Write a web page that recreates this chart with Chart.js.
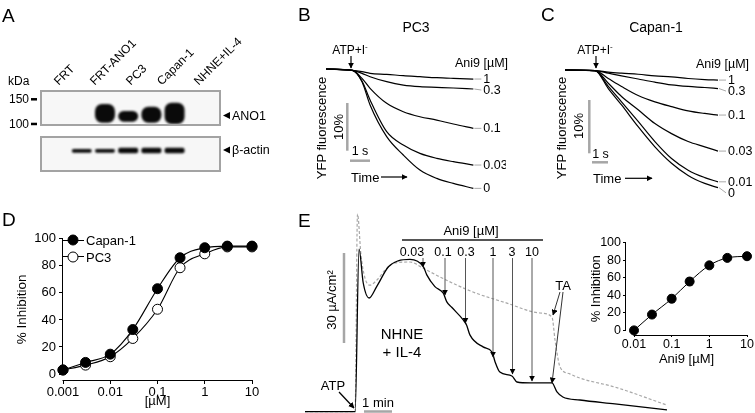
<!DOCTYPE html>
<html>
<head>
<meta charset="utf-8">
<script src="https://cdn.jsdelivr.net/npm/chart.js@4.4.1/dist/chart.umd.min.js"></script>
<style>
  body { margin: 0; background: #fff; }
  #fig { position: relative; width: 755px; height: 413px; overflow: hidden;
         font-family: "Liberation Sans", Arial, sans-serif; color: #000; }
  #fig canvas { position: absolute; }
  .t { position: absolute; white-space: nowrap; line-height: 1; }
  .c { transform: translate(-50%, -50%); }
  .l { transform: translate(0, -50%); }
  .v { transform: translate(-50%, -50%) rotate(-90deg); }
  .d { transform-origin: 0 50%; transform: translate(0, -50%) rotate(-45deg); font-size: 12px; }
  .big { font-size: 19px; }
  .sup { position: relative; top: -5px; font-size: 8px; }
  .dot { position: absolute; width: 9px; height: 9px; border: 1px solid #000; border-radius: 50%;
         transform: translate(-50%, -50%); }
  svg { position: absolute; left: 0; top: 0; }
</style>
</head>
<body>
<div id="fig">
  <!-- A: western blot -->
  <canvas id="cA1" width="221" height="48" style="left:0;top:84px"></canvas>
  <canvas id="cA2" width="221" height="36" style="left:0;top:136px"></canvas>
  <!-- B, C: YFP traces -->
  <canvas id="cB" width="180" height="135" style="left:326px;top:60px"></canvas>
  <canvas id="cC" width="190" height="140" style="left:565px;top:60px"></canvas>
  <!-- D: dose response -->
  <canvas id="cD" width="248" height="181" style="left:14px;top:228px"></canvas>
  <!-- E: short-circuit current trace and inset -->
  <canvas id="cE" width="362" height="203" style="left:305px;top:210px"></canvas>
  <canvas id="cE2" width="166" height="134" style="left:589px;top:233px"></canvas>

  <svg width="755" height="413">
    <defs>
      <marker id="ah" viewBox="0 0 10 10" refX="9" refY="5" markerWidth="6" markerHeight="6"
              markerUnits="userSpaceOnUse" orient="auto">
        <path d="M0,0 L10,5 L0,10 z" fill="#000"/>
      </marker>
    </defs>
    <!-- A side arrows -->
    <polygon points="223,115.5 230,112 230,119" fill="#000"/>
    <polygon points="223,150 230,146.5 230,153.5" fill="#000"/>
    <!-- B -->
    <line x1="351" y1="56" x2="351" y2="68" stroke="#000" stroke-width="1.2" marker-end="url(#ah)"/>
    <line x1="347.3" y1="103" x2="347.3" y2="150.7" stroke="#a6a6a6" stroke-width="2.5"/>
    <line x1="350" y1="160.7" x2="370" y2="160.7" stroke="#a6a6a6" stroke-width="2.5"/>
    <line x1="381" y1="177" x2="407" y2="177" stroke="#000" stroke-width="1.2" marker-end="url(#ah)"/>
    <!-- C -->
    <line x1="596" y1="56" x2="596" y2="68" stroke="#000" stroke-width="1.2" marker-end="url(#ah)"/>
    <line x1="589.3" y1="100" x2="589.3" y2="153.3" stroke="#a6a6a6" stroke-width="2.5"/>
    <line x1="592" y1="162.3" x2="608" y2="162.3" stroke="#a6a6a6" stroke-width="2.5"/>
    <line x1="625" y1="178.3" x2="652" y2="178.3" stroke="#000" stroke-width="1.2" marker-end="url(#ah)"/>
    <!-- E -->
    <line x1="402" y1="240" x2="543" y2="240" stroke="#555" stroke-width="2"/>
    <line x1="423" y1="258" x2="423" y2="267" stroke="#555" stroke-width="1" marker-end="url(#ah)"/>
    <line x1="445" y1="258" x2="445" y2="295" stroke="#555" stroke-width="1" marker-end="url(#ah)"/>
    <line x1="465.5" y1="258" x2="465.5" y2="323" stroke="#555" stroke-width="1" marker-end="url(#ah)"/>
    <line x1="493" y1="258" x2="493" y2="357" stroke="#555" stroke-width="1" marker-end="url(#ah)"/>
    <line x1="512.5" y1="258" x2="512.5" y2="374" stroke="#555" stroke-width="1" marker-end="url(#ah)"/>
    <line x1="532" y1="258" x2="532" y2="381" stroke="#555" stroke-width="1" marker-end="url(#ah)"/>
    <line x1="560" y1="292" x2="553" y2="315" stroke="#333" stroke-width="1" marker-end="url(#ah)"/>
    <line x1="563" y1="292" x2="552" y2="383" stroke="#333" stroke-width="1" marker-end="url(#ah)"/>
    <line x1="339" y1="392" x2="354" y2="408" stroke="#000" stroke-width="1.2" marker-end="url(#ah)"/>
    <line x1="344" y1="253" x2="344" y2="343" stroke="#a6a6a6" stroke-width="2.5"/>
    <line x1="364" y1="411.5" x2="392" y2="411.5" stroke="#a6a6a6" stroke-width="2.5"/>
  </svg>

  <!-- panel letters -->
  <div class="t l big" style="left:2px;top:15px">A</div>
  <div class="t l big" style="left:298px;top:13.5px">B</div>
  <div class="t l big" style="left:541px;top:13.5px">C</div>
  <div class="t l big" style="left:2px;top:218.5px">D</div>
  <div class="t l big" style="left:298px;top:220px">E</div>

  <!-- A texts -->
  <div class="t l" style="left:8px;top:80.5px;font-size:12px">kDa</div>
  <div class="t d" style="left:56px;top:83px">FRT</div>
  <div class="t d" style="left:92px;top:83px">FRT-ANO1</div>
  <div class="t d" style="left:128px;top:83px">PC3</div>
  <div class="t d" style="left:159px;top:83px">Capan-1</div>
  <div class="t d" style="left:196px;top:83px">NHNE+IL-4</div>
  <div class="t l" style="left:232px;top:115.5px;font-size:12.5px">ANO1</div>
  <div class="t l" style="left:232px;top:150px;font-size:12.5px">β-actin</div>

  <!-- B texts -->
  <div class="t c" style="left:416px;top:27px;font-size:14px">PC3</div>
  <div class="t c" style="left:350px;top:50px;font-size:12px">ATP+I<span class="sup">-</span></div>
  <div class="t l" style="left:455px;top:63px;font-size:12.5px">Ani9 [µM]</div>
  <div class="t v" style="left:321px;top:128px;font-size:13px">YFP fluorescence</div>
  <div class="t v" style="left:337.5px;top:126.5px;font-size:13px">10%</div>
  <div class="t c" style="left:360px;top:150.5px;font-size:12.5px">1 s</div>
  <div class="t l" style="left:351px;top:177px;font-size:13px">Time</div>

  <!-- C texts -->
  <div class="t c" style="left:656px;top:27px;font-size:14px">Capan-1</div>
  <div class="t c" style="left:595px;top:50px;font-size:12px">ATP+I<span class="sup">-</span></div>
  <div class="t l" style="left:696px;top:64px;font-size:12.5px">Ani9 [µM]</div>
  <div class="t v" style="left:561px;top:128px;font-size:13px">YFP fluorescence</div>
  <div class="t v" style="left:578px;top:126px;font-size:13px">10%</div>
  <div class="t c" style="left:600.5px;top:154px;font-size:12.5px">1 s</div>
  <div class="t l" style="left:593px;top:178px;font-size:13px">Time</div>

  <!-- D legend -->
  <div style="position:absolute;left:62px;top:239.5px;width:22px;border-top:1px solid #000"></div>
  <div class="dot" style="left:73.3px;top:240px;background:#000"></div>
  <div class="t l" style="left:86px;top:240px;font-size:13px">Capan-1</div>
  <div style="position:absolute;left:62px;top:256.2px;width:22px;border-top:1px solid #000"></div>
  <div class="dot" style="left:73.3px;top:256.7px;background:#fff"></div>
  <div class="t l" style="left:86px;top:256.7px;font-size:13px">PC3</div>

  <!-- E texts -->
  <div class="t c" style="left:471px;top:230px;font-size:13px">Ani9 [µM]</div>
  <div class="t c" style="left:412px;top:252px;font-size:12.5px">0.03</div>
  <div class="t c" style="left:443px;top:252px;font-size:12.5px">0.1</div>
  <div class="t c" style="left:466px;top:252px;font-size:12.5px">0.3</div>
  <div class="t c" style="left:493px;top:252px;font-size:12.5px">1</div>
  <div class="t c" style="left:512px;top:252px;font-size:12.5px">3</div>
  <div class="t c" style="left:532px;top:252px;font-size:12.5px">10</div>
  <div class="t c" style="left:563px;top:285px;font-size:13px">TA</div>
  <div class="t c" style="left:402px;top:333px;font-size:15px">NHNE</div>
  <div class="t c" style="left:402px;top:351px;font-size:15px">+ IL-4</div>
  <div class="t c" style="left:333px;top:385px;font-size:13px">ATP</div>
  <div class="t c" style="left:378px;top:402px;font-size:13px">1 min</div>
  <div class="t v" style="left:331px;top:300px;font-size:13px">30 µA/cm²</div>
</div>

<script>
const lanes = ['FRT', 'FRT-ANO1', 'PC3', 'Capan-1', 'NHNE+IL-4'];
const kdaTicks = [100, 150];
const ano1Bands = [null, [102.4, 140.3], [104.7, 126.3], [102.4, 135], [100, 143]];
const actinBands = [[5.36, 6.39], [5.36, 6.39], [5.19, 6.75], [5.19, 6.75], [5.19, 6.75]];

// ---- B: PC3 YFP quench traces (time in s, % fluorescence) ----
const tB = [0, 1.24, 1.69, 2.07, 2.85, 3.63, 4.41, 5.2, 5.98, 6.92];
const doseB = ['1', '0.3', '0.1', '0.03', '0'];
const pc3_1    = [100, 99.72, 99.44, 99.09, 98.88, 98.60, 98.39, 98.18, 98.04, 97.90];
const pc3_03   = [100, 99.72, 99.09, 98.39, 97.34, 96.64, 96.30, 96.16, 96.02, 95.81];
const pc3_01   = [100, 99.72, 98.04, 95.95, 92.80, 91.05, 90.00, 89.30, 88.47, 87.56];
const pc3_003  = [100, 99.72, 97.48, 93.50, 86.86, 84.06, 82.32, 81.27, 80.57, 79.87];
const pc3_0    = [100, 99.72, 97.34, 92.45, 85.81, 81.97, 78.82, 77.07, 76.02, 74.98];

// ---- C: Capan-1 YFP quench traces ----
const tC = [0, 1.88, 2.71, 3.54, 4.58, 5.63, 6.67, 7.71, 8.75, 9.58];
const doseC = ['1', '0.3', '0.1', '0.03', '0.01', '0'];
const cap_1    = [100, 99.9, 99.6, 99.4, 99.2, 98.9, 98.7, 98.4, 98.2, 98.1];
const cap_03   = [100, 99.9, 99.4, 98.9, 98.3, 97.7, 97.2, 96.9, 96.7, 96.5];
const cap_01   = [100, 99.9, 98.4, 96.9, 95.2, 94.0, 93.1, 92.3, 91.8, 91.5];
const cap_003  = [100, 99.9, 97.5, 95.0, 92.5, 89.9, 88.0, 86.5, 85.5, 84.7];
const cap_001  = [100, 99.9, 96.9, 94.0, 90.3, 86.5, 83.3, 81.1, 79.7, 78.9];
const cap_0    = [100, 99.9, 96.5, 93.4, 89.3, 85.5, 82.4, 80.1, 78.6, 77.8];

// ---- D: % inhibition vs Ani9 ----
const conc = [0.001, 0.003, 0.01, 0.03, 0.1, 0.3, 1, 3, 10];
const inhCapan = [3.0, 8.6, 14.7, 32.9, 63.1, 86.0, 93.4, 94.6, 94.6];
const inhPC3 = [3.0, 6.6, 12.8, 26.3, 47.9, 78.6, 88.9, 94.0, 94.0];
const xTicksD = [0.001, 0.01, 0.1, 1, 10];
const yTicksPct = [0, 20, 40, 60, 80, 100];

// ---- E: NHNE short-circuit current (min, µA/cm²) ----
const eTimeBlack = [0, 1.79, 1.93, 2.08, 2.29, 2.56, 2.98, 3.33, 3.75, 4.23, 4.35, 4.64, 4.94, 5.06, 5.24,
  5.65, 5.77, 5.89, 6.36, 6.68, 6.79, 6.96, 7.39, 7.57, 8.04, 8.82, 9.0, 9.21, 9.82, 11.07, 12.93];
const eCurBlack = [0, 0, 54.2, 42.9, 37.9, 41.7, 48.3, 50.3, 50.8, 48.3, 45.6, 41.7, 39.5, 36.7, 34.8,
  30.6, 28.9, 25.6, 21.6, 19.9, 16.6, 13.2, 11.9, 9.9, 9.6, 9.6, 6.6, 4.9, 3.9, 2.6, 0.6];
const eTimeGray = [0, 1.79, 1.875, 2.0, 2.14, 2.32, 2.57, 2.86, 3.21, 3.75, 4.21, 4.82, 6.0, 7.21, 8.39,
  8.82, 8.93, 9.0, 9.11, 9.46, 9.82, 11.07, 12.93];
const eCurGray = [0, 0, 65.9, 52.2, 44.6, 42.2, 43.9, 47.2, 49.6, 49.9, 47.9, 44.9, 39.9, 36.2, 32.9,
  31.6, 23.9, 19.6, 14.9, 12.6, 11.2, 8.2, 2.2];

// ---- E inset ----
const insetConc = [0.01, 0.03, 0.1, 0.3, 1, 3, 10];
const insetInh = [0, 18, 36, 55.6, 74, 82.5, 84.4];
const insetErr = [0, 1.5, 4, 4, 1.5, 1.5, 1.5];
const xTicksInset = [0.01, 0.1, 1, 10];

Chart.defaults.font.family = '"Liberation Sans", Arial, sans-serif';
Chart.defaults.color = '#000';
Chart.defaults.animation = false;
Chart.defaults.events = [];
Chart.defaults.plugins.legend.display = false;
Chart.defaults.plugins.tooltip.enabled = false;

const pts = (xs, ys) => xs.map((x, i) => ({ x: x, y: ys[i] }));
const setTicks = vals => scale => { scale.ticks = vals.map(v => ({ value: v })); };

// blot frame, soft bands and kDa markers
function blotPlugin(markers) {
  return {
    id: 'blot',
    beforeDatasetsDraw(chart) {
      const { ctx, chartArea: a } = chart;
      ctx.save();
      ctx.fillStyle = '#f7f7f7';
      ctx.fillRect(a.left, a.top, a.width, a.height);
      ctx.restore();
      ctx.save();
      ctx.filter = 'blur(1.2px)';
    },
    afterDatasetsDraw(chart) {
      const { ctx, chartArea: a, scales } = chart;
      ctx.restore();
      ctx.save();
      ctx.strokeStyle = '#a3a3a3';
      ctx.lineWidth = 2;
      ctx.strokeRect(a.left + 1, a.top + 1, a.width - 2, a.height - 2);
      if (markers) {
        ctx.font = '12px "Liberation Sans", Arial, sans-serif';
        ctx.textAlign = 'right';
        ctx.textBaseline = 'middle';
        ctx.fillStyle = '#000';
        ctx.strokeStyle = '#000';
        ctx.lineWidth = 2.5;
        markers.forEach(v => {
          const y = scales.y.getPixelForValue(v);
          ctx.beginPath();
          ctx.moveTo(a.left - 9, y);
          ctx.lineTo(a.left - 3, y);
          ctx.stroke();
          ctx.fillText(String(v), a.left - 11, y + 0.5);
        });
      }
      ctx.restore();
    }
  };
}

function blotChart(id, bands, yMin, yMax, markers, radius, padY) {
  return new Chart(document.getElementById(id), {
    type: 'bar',
    data: {
      datasets: [{
        data: bands.map((b, i) => ({ x: i, y: b })),
        backgroundColor: '#0a0a0a',
        borderSkipped: false,
        borderRadius: radius,
        categoryPercentage: 1,
        barPercentage: 0.86
      }]
    },
    options: {
      responsive: false,
      layout: { padding: { left: 40, top: padY, bottom: padY } },
      scales: {
        x: { type: 'linear', display: false, min: -0.5, max: lanes.length - 0.3 },
        y: { display: false, min: yMin, max: yMax }
      }
    },
    plugins: [blotPlugin(markers)]
  });
}
blotChart('cA1', ano1Bands, 95.9, 168.8, kdaTicks, 7, 6);
blotChart('cA2', actinBands, 0, 10, null, 2, 0);

// dose labels at the end of each trace, with short grey leader lines
function endLabels(labels) {
  return {
    id: 'endLabels',
    afterDatasetsDraw(chart) {
      const ctx = chart.ctx;
      let prev = -Infinity;
      ctx.save();
      ctx.font = '12.5px "Liberation Sans", Arial, sans-serif';
      ctx.textBaseline = 'middle';
      ctx.fillStyle = '#000';
      ctx.strokeStyle = '#aaa';
      ctx.lineWidth = 1;
      chart.data.datasets.forEach((ds, i) => {
        const meta = chart.getDatasetMeta(i);
        const p = meta.data[meta.data.length - 1];
        const ly = Math.max(p.y, prev + 11);
        prev = ly;
        ctx.beginPath();
        ctx.moveTo(p.x + 1, p.y);
        ctx.lineTo(p.x + 8, ly);
        ctx.stroke();
        ctx.fillText(labels[i], p.x + 10, ly + 0.5);
      });
      ctx.restore();
    }
  };
}

function traceChart(id, t, series, labels, xMax, yMin, yMax, padRight) {
  return new Chart(document.getElementById(id), {
    type: 'scatter',
    data: {
      datasets: series.map(s => ({
        data: pts(t, s),
        showLine: true,
        borderColor: '#000',
        borderWidth: 1.2,
        pointRadius: 0,
        cubicInterpolationMode: 'monotone',
        clip: false
      }))
    },
    options: {
      responsive: false,
      layout: { padding: { right: padRight } },
      scales: {
        x: { type: 'linear', display: false, min: 0, max: xMax },
        y: { display: false, min: yMin, max: yMax }
      }
    },
    plugins: [endLabels(labels)]
  });
}
traceChart('cB', tB, [pc3_1, pc3_03, pc3_01, pc3_003, pc3_0], doseB, 6.95, 73.59, 101.89, 32);
traceChart('cC', tC, [cap_1, cap_03, cap_01, cap_003, cap_001, cap_0], doseC, 9.58, 75.47, 101.89, 37);

// axis lines that run only from first to last tick
const axisLines = {
  id: 'axisLines',
  afterDraw(chart) {
    const { ctx, chartArea: a, scales } = chart;
    const x = scales.x, y = scales.y;
    ctx.save();
    ctx.strokeStyle = '#000';
    ctx.lineWidth = 1;
    ctx.beginPath();
    ctx.moveTo(a.left - 0.5, y.getPixelForValue(y.ticks[0].value) + 0.5);
    ctx.lineTo(a.left - 0.5, y.getPixelForValue(y.ticks[y.ticks.length - 1].value) - 0.5);
    ctx.moveTo(x.getPixelForValue(x.ticks[0].value) - 0.5, a.bottom + 0.5);
    ctx.lineTo(x.getPixelForValue(x.ticks[x.ticks.length - 1].value) + 0.5, a.bottom + 0.5);
    ctx.stroke();
    ctx.restore();
  }
};

function axisOpts(size, tickLen, pad) {
  return {
    grid: { drawOnChartArea: false, color: '#000', tickLength: tickLen },
    border: { display: false },
    ticks: { font: { size: size }, padding: pad, maxRotation: 0, autoSkip: false,
             callback: v => String(v) }
  };
}

// D
new Chart(document.getElementById('cD'), {
  type: 'scatter',
  data: {
    datasets: [
      { data: pts(conc, inhCapan), showLine: true, borderColor: '#000', borderWidth: 1.1,
        cubicInterpolationMode: 'monotone', pointRadius: 5, pointBorderWidth: 1,
        pointBackgroundColor: '#000', pointBorderColor: '#000', clip: false },
      { data: pts(conc, inhPC3), showLine: true, borderColor: '#000', borderWidth: 1.1,
        cubicInterpolationMode: 'monotone', pointRadius: 5, pointBorderWidth: 1,
        pointBackgroundColor: '#fff', pointBorderColor: '#000', clip: false }
    ]
  },
  options: {
    responsive: false,
    layout: { padding: { top: 10, right: 10 } },
    scales: {
      x: Object.assign(axisOpts(13, 4, 1), {
        type: 'logarithmic', min: 0.001, max: 10,
        afterBuildTicks: setTicks(xTicksD),
        afterFit: s => { s.height = 29; },
        title: { display: true, text: '[µM]', font: { size: 13 }, padding: 0 }
      }),
      y: Object.assign(axisOpts(13, 4, 3), {
        min: -4.4, max: 100,
        afterBuildTicks: setTicks(yTicksPct),
        afterFit: s => { s.width = 49; },
        title: { display: true, text: '% Inhibition', font: { size: 13.5 }, padding: 0 }
      })
    }
  },
  plugins: [axisLines]
});

// E trace
new Chart(document.getElementById('cE'), {
  type: 'scatter',
  data: {
    datasets: [
      { data: pts(eTimeBlack, eCurBlack), showLine: true, borderColor: '#000', borderWidth: 1.3,
        pointRadius: 0, cubicInterpolationMode: 'monotone', clip: false },
      { data: pts(eTimeGray, eCurGray), showLine: true, borderColor: '#a8a8a8', borderWidth: 1.2,
        borderDash: [3, 2], pointRadius: 0, cubicInterpolationMode: 'monotone', clip: false }
    ]
  },
  options: {
    responsive: false,
    scales: {
      x: { type: 'linear', display: false, min: 0, max: 12.93 },
      y: { display: false, min: -0.43, max: 67.23 }
    }
  }
});

// E inset with error bars
const errorBars = {
  id: 'errorBars',
  afterDatasetsDraw(chart) {
    const { ctx, scales } = chart;
    const meta = chart.getDatasetMeta(0);
    ctx.save();
    ctx.strokeStyle = '#000';
    ctx.lineWidth = 1;
    meta.data.forEach((p, i) => {
      const e = insetErr[i];
      if (!e) return;
      const y1 = scales.y.getPixelForValue(insetInh[i] + e);
      const y2 = scales.y.getPixelForValue(insetInh[i] - e);
      ctx.beginPath();
      ctx.moveTo(p.x, y1); ctx.lineTo(p.x, y2);
      ctx.moveTo(p.x - 3, y1); ctx.lineTo(p.x + 3, y1);
      ctx.moveTo(p.x - 3, y2); ctx.lineTo(p.x + 3, y2);
      ctx.stroke();
    });
    ctx.restore();
  }
};

new Chart(document.getElementById('cE2'), {
  type: 'scatter',
  data: {
    datasets: [{
      data: pts(insetConc, insetInh), showLine: true, borderColor: '#000', borderWidth: 1,
      cubicInterpolationMode: 'monotone', pointRadius: 4.5, pointBackgroundColor: '#000',
      pointBorderColor: '#000', clip: false
    }]
  },
  options: {
    responsive: false,
    layout: { padding: { top: 8, right: 8 } },
    scales: {
      x: Object.assign(axisOpts(12.5, 2, 0), {
        type: 'logarithmic', min: 0.00613, max: 10,
        afterBuildTicks: setTicks(xTicksInset),
        afterFit: s => { s.height = 32; },
        title: { display: true, text: 'Ani9 [µM]', font: { size: 13 }, padding: 0 }
      }),
      y: Object.assign(axisOpts(12.5, 3, 2), {
        min: -5.26, max: 100,
        afterBuildTicks: setTicks(yTicksPct),
        afterFit: s => { s.width = 37; },
        title: { display: true, text: '% Inhibition', font: { size: 13 }, padding: 0 }
      })
    }
  },
  plugins: [axisLines, errorBars]
});
</script>
</body>
</html>
